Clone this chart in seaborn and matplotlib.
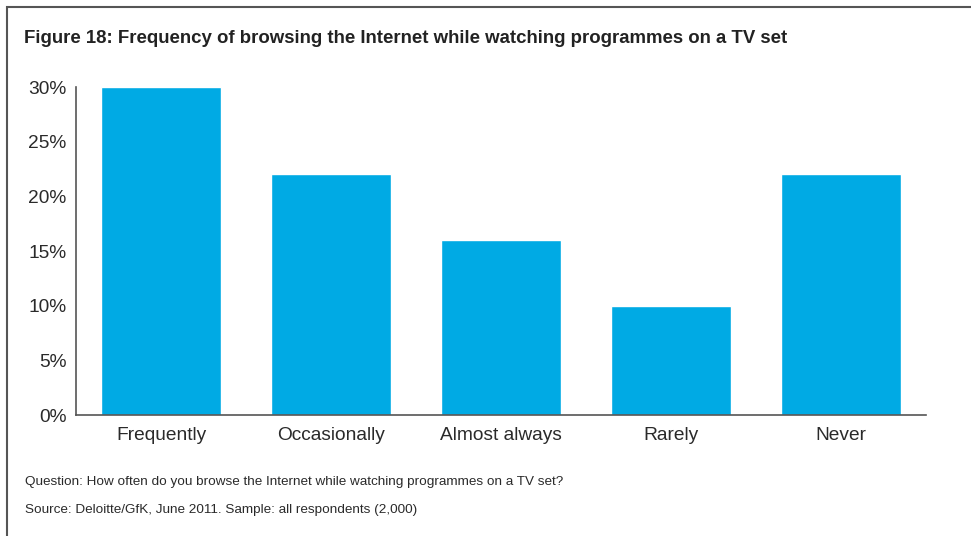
import seaborn as sns
import matplotlib.pyplot as plt
import matplotlib.patches as patches
import pandas as pd

categories = ['Frequently', 'Occasionally', 'Almost always', 'Rarely', 'Never']
shares = [30, 22, 16, 10, 22]
y_ticks = [0, 5, 10, 15, 20, 25, 30]
y_labels = ['0%', '5%', '10%', '15%', '20%', '25%', '30%']

df = pd.DataFrame({'answer': categories, 'share': shares})

sns.set_style('white')
plt.rcParams['font.family'] = ['Liberation Sans', 'DejaVu Sans']

fig = plt.figure(figsize=(9.71, 5.36), dpi=100)
W, H = 971, 536

# outer frame (top and left visible, right/bottom run off the picture)
fig.patches.append(patches.Rectangle((7 / W, -0.2), 1.5, 1.2 - 7 / H,
                                     transform=fig.transFigure, fill=False,
                                     edgecolor='#555555', linewidth=1.5))

ax = fig.add_axes([76 / W, 1 - 415 / H, 850 / W, 328 / H])
sns.barplot(data=df, x='answer', y='share', color='#00AAE4', saturation=1,
            width=0.706, ax=ax)

ax.set_xlim(-0.5, 4.5)
ax.set_ylim(0, 30)
ax.set_yticks(y_ticks)
ax.set_yticklabels(y_labels)
ax.set_xlabel('')
ax.set_ylabel('')
ax.tick_params(axis='both', length=0, labelsize=13.8, colors='#2a2a2a')
ax.tick_params(axis='x', pad=9)
ax.tick_params(axis='y', pad=7)
for side in ['top', 'right']:
    ax.spines[side].set_visible(False)
for side in ['left', 'bottom']:
    ax.spines[side].set_color('#555555')
    ax.spines[side].set_linewidth(1.2)

fig.text(24 / W, 1 - 43 / H,
         'Figure 18: Frequency of browsing the Internet while watching programmes on a TV set',
         fontsize=13.4, fontweight='bold', color='#222222', va='baseline')
fig.text(25 / W, 1 - 485 / H,
         'Question: How often do you browse the Internet while watching programmes on a TV set?',
         fontsize=9.7, color='#2a2a2a', va='baseline')
fig.text(25 / W, 1 - 513 / H,
         'Source: Deloitte/GfK, June 2011. Sample: all respondents (2,000)',
         fontsize=9.7, color='#2a2a2a', va='baseline')

fig.savefig('out.png', dpi=100)
